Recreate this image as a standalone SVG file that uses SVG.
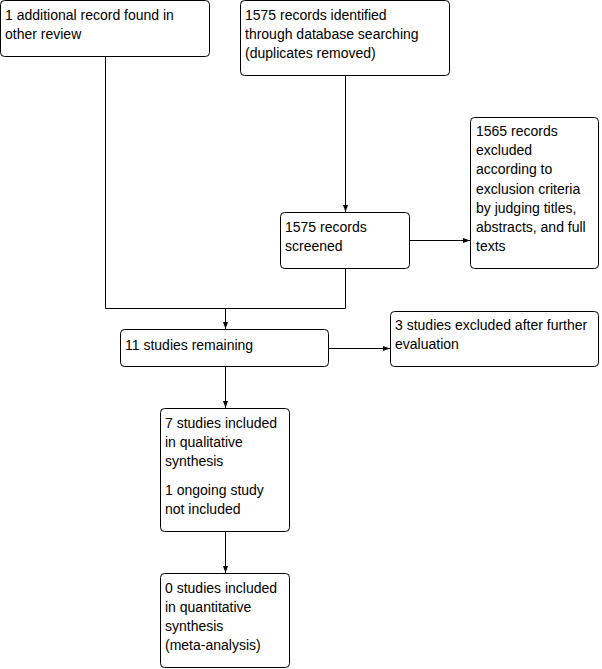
<svg xmlns="http://www.w3.org/2000/svg" width="602" height="669" viewBox="0 0 602 669">
<style>
.box{fill:#fff;stroke:#000;stroke-width:1}
.t{font-family:"Liberation Sans",Arial,sans-serif;font-size:14px;fill:#000}
.c{fill:none;stroke:#000;stroke-width:1}
</style>
<defs>
<marker id="ah" markerUnits="userSpaceOnUse" markerWidth="8" markerHeight="8" refX="7" refY="4" orient="auto">
<path d="M0,1.5 L7,4 L0,6.5 Z" fill="#000"/>
</marker>
</defs>
<rect width="602" height="669" fill="#fff"/>
<g id="connectors">
<path class="c" d="M345.5,76 V212" marker-end="url(#ah)"/>
<path class="c" d="M410,240.5 H470" marker-end="url(#ah)"/>
<path class="c" d="M105.5,57 V308.5 H345.5 V269"/>
<path class="c" d="M225.5,308.5 V329" marker-end="url(#ah)"/>
<path class="c" d="M329,348.5 H390" marker-end="url(#ah)"/>
<path class="c" d="M225.5,367 V408" marker-end="url(#ah)"/>
<path class="c" d="M225.5,532 V573" marker-end="url(#ah)"/>
</g>
<g id="n1">
<rect class="box" x="0.5" y="0.5" width="209" height="56" rx="4"/>
<text class="t" x="5" y="20">1 additional record found in</text>
<text class="t" x="5" y="39">other review</text>
</g>
<g id="n2">
<rect class="box" x="240.5" y="0.5" width="209" height="75" rx="4"/>
<text class="t" x="245" y="20">1575 records identified</text>
<text class="t" x="245" y="39">through database searching</text>
<text class="t" x="245" y="58">(duplicates removed)</text>
</g>
<g id="n3">
<rect class="box" x="470.5" y="117.5" width="128" height="151" rx="4"/>
<text class="t" x="476" y="136">1565 records</text>
<text class="t" x="476" y="155">excluded</text>
<text class="t" x="476" y="174">according to</text>
<text class="t" x="476" y="194">exclusion criteria</text>
<text class="t" x="476" y="213">by judging titles,</text>
<text class="t" x="476" y="232">abstracts, and full</text>
<text class="t" x="476" y="251">texts</text>
</g>
<g id="n4">
<rect class="box" x="280.5" y="212.5" width="129" height="56" rx="4"/>
<text class="t" x="285" y="232">1575 records</text>
<text class="t" x="285" y="251">screened</text>
</g>
<g id="n5">
<rect class="box" x="120.5" y="329.5" width="208" height="37" rx="4"/>
<text class="t" x="125" y="350">11 studies remaining</text>
</g>
<g id="n6">
<rect class="box" x="390.5" y="311.5" width="208" height="55" rx="4"/>
<text class="t" x="395" y="330">3 studies excluded after further</text>
<text class="t" x="395" y="349">evaluation</text>
</g>
<g id="n7">
<rect class="box" x="160.5" y="408.5" width="129" height="123" rx="4"/>
<text class="t" x="165" y="428">7 studies included</text>
<text class="t" x="165" y="447">in qualitative</text>
<text class="t" x="165" y="466">synthesis</text>
<text class="t" x="165" y="495">1 ongoing study</text>
<text class="t" x="165" y="514">not included</text>
</g>
<g id="n8">
<rect class="box" x="160.5" y="573.5" width="129" height="94" rx="4"/>
<text class="t" x="165" y="593">0 studies included</text>
<text class="t" x="165" y="612">in quantitative</text>
<text class="t" x="165" y="631">synthesis</text>
<text class="t" x="165" y="650">(meta-analysis)</text>
</g>
</svg>
